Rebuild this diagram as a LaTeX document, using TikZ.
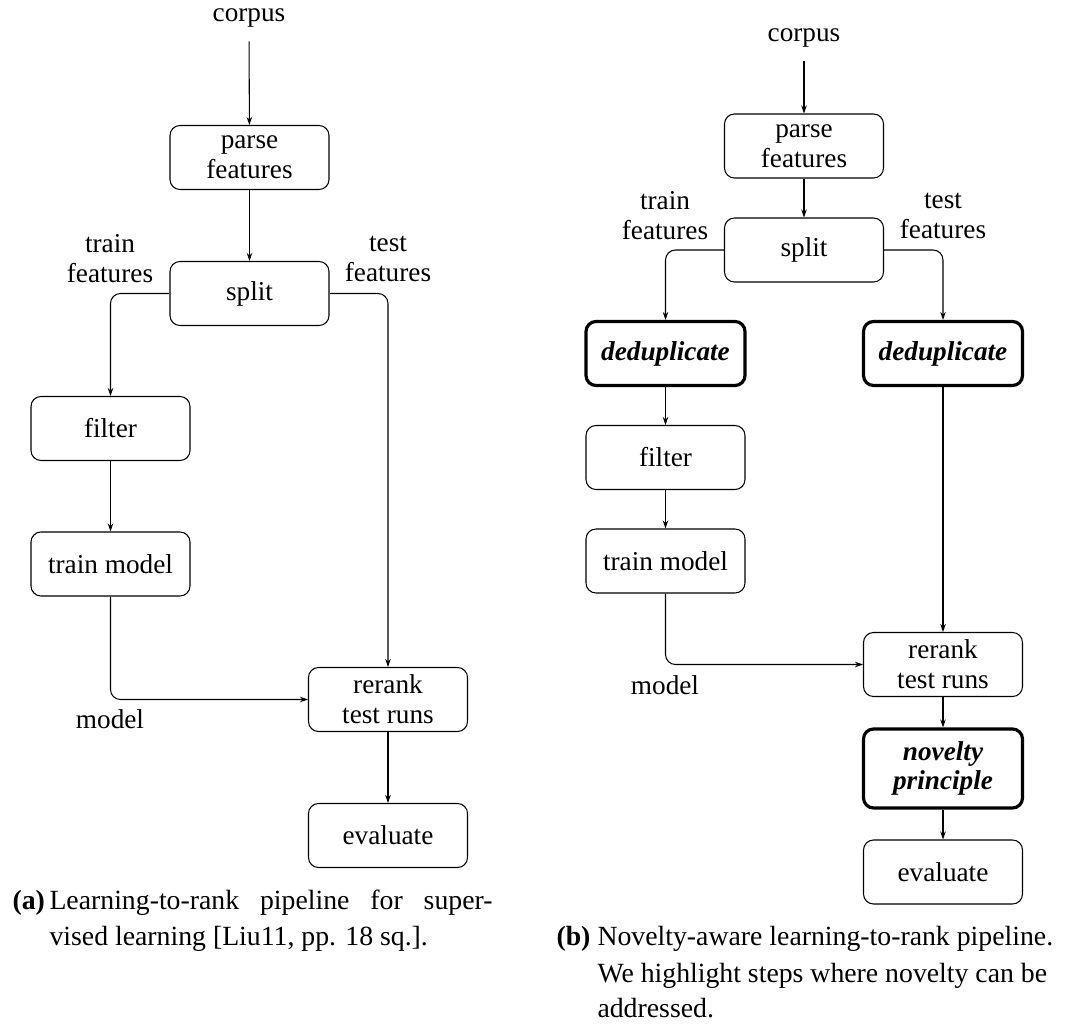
\documentclass[tikz,border=0pt]{standalone}
\usepackage{fontspec}
\setmainfont{Liberation Serif}
\usetikzlibrary{arrows.meta,positioning}

\tikzset{
    stepbox/.style={draw, line width=0.6pt, rounded corners=0.2cm, minimum width=3.18cm,
        minimum height=1.28cm, inner ysep=3pt, align=center, font=\fontsize{15.5}{17}\selectfont},
    hlbox/.style={stepbox, line width=1.8pt, font=\fontsize{15.5}{17}\selectfont\bfseries\itshape},
    lbl/.style={align=center, inner ysep=2pt, font=\fontsize{15.5}{17}\selectfont},
    captext/.style={anchor=base west, inner sep=0pt, font=\fontsize{15.8}{20}\selectfont},
    >={Stealth[length=0.16cm,width=0.11cm]}
}

\begin{document}
\begin{tikzpicture}[line width=0.6pt]
    \useasboundingbox (0,0) rectangle (21.62,-20.5);

    % (a)
    \node[lbl] (C) at (4.98,-0.36) {corpus};
    \node[stepbox] (P) at (4.99,-3.15) {parse\\features};
    \node[stepbox] (S) at (4.99,-5.87) {split};
    \node[lbl] (TrF) at (2.2,-5.18) {train\\features};
    \node[lbl] (TeF) at (7.76,-5.18) {test\\features};
    \node[stepbox] (F) at (2.21,-8.57) {filter};
    \node[stepbox] (T) at (2.21,-11.28) {train model};
    \node[stepbox] (R) at (7.76,-13.99) {rerank\\test runs};
    \node[lbl] (M) at (2.2,-14.38) {model};
    \node[stepbox] (E) at (7.76,-16.71) {evaluate};

    \path[->] (C) edge[shorten <=0.2cm] (P)
    (P) edge (S)
    (F) edge (T)
    (R) edge (E);
    \draw[->, rounded corners=0.2cm] (S.west) -| (F.north);
    \draw[->, rounded corners=0.2cm] (S.east) -| (R.north);
    \draw[->, rounded corners=0.2cm] (T.south) |- (R.west);

    \node[captext] (CapA) at (0.24,-18.18) {\textbf{(a)}};
    \node[captext] (CapA1) at (0.98,-18.18) {\makebox[8.86cm][s]{Learning-to-rank pipeline for super-}};
    \node[captext] (CapA2) at (0.98,-18.9) {vised learning [Liu11, pp. 18 sq.].};

    % (b)
    \node[lbl] (C2) at (16.08,-0.76) {corpus};
    \node[stepbox] (P2) at (16.08,-2.92) {parse\\features};
    \node[stepbox] (S2) at (16.08,-5.0) {split};
    \node[lbl] (TrF2) at (13.3,-4.32) {train\\features};
    \node[lbl] (TeF2) at (18.86,-4.32) {test\\features};
    \node[hlbox] (D21) at (13.31,-7.07) {deduplicate};
    \node[hlbox] (D22) at (18.86,-7.07) {deduplicate};
    \node[stepbox] (F2) at (13.31,-9.15) {filter};
    \node[stepbox] (T2) at (13.31,-11.22) {train model};
    \node[stepbox] (R2) at (18.86,-13.29) {rerank\\test runs};
    \node[lbl] (M2) at (13.3,-13.7) {model};
    \node[hlbox, minimum height=1.58cm] (N2) at (18.86,-15.37) {novelty\\principle};
    \node[stepbox] (E2) at (18.86,-17.44) {evaluate};

    \path[->] (C2) edge[shorten <=0.2cm] (P2)
    (P2) edge (S2)
    (D21) edge (F2)
    (F2) edge (T2)
    (D22) edge (R2)
    (R2) edge (N2)
    (N2) edge (E2);
    \draw[->, rounded corners=0.2cm] (S2.west) -| (D21.north);
    \draw[->, rounded corners=0.2cm] (S2.east) -| (D22.north);
    \draw[->, rounded corners=0.2cm] (T2.south) |- (R2.west);

    \node[captext] (CapB) at (11.12,-18.9) {\textbf{(b)}};
    \node[captext] (CapB1) at (11.94,-18.9) {Novelty-aware learning-to-rank pipeline.};
    \node[captext] (CapB2) at (11.94,-19.64) {We highlight steps where novelty can be};
    \node[captext] (CapB3) at (11.94,-20.34) {addressed.};
\end{tikzpicture}
\end{document}
